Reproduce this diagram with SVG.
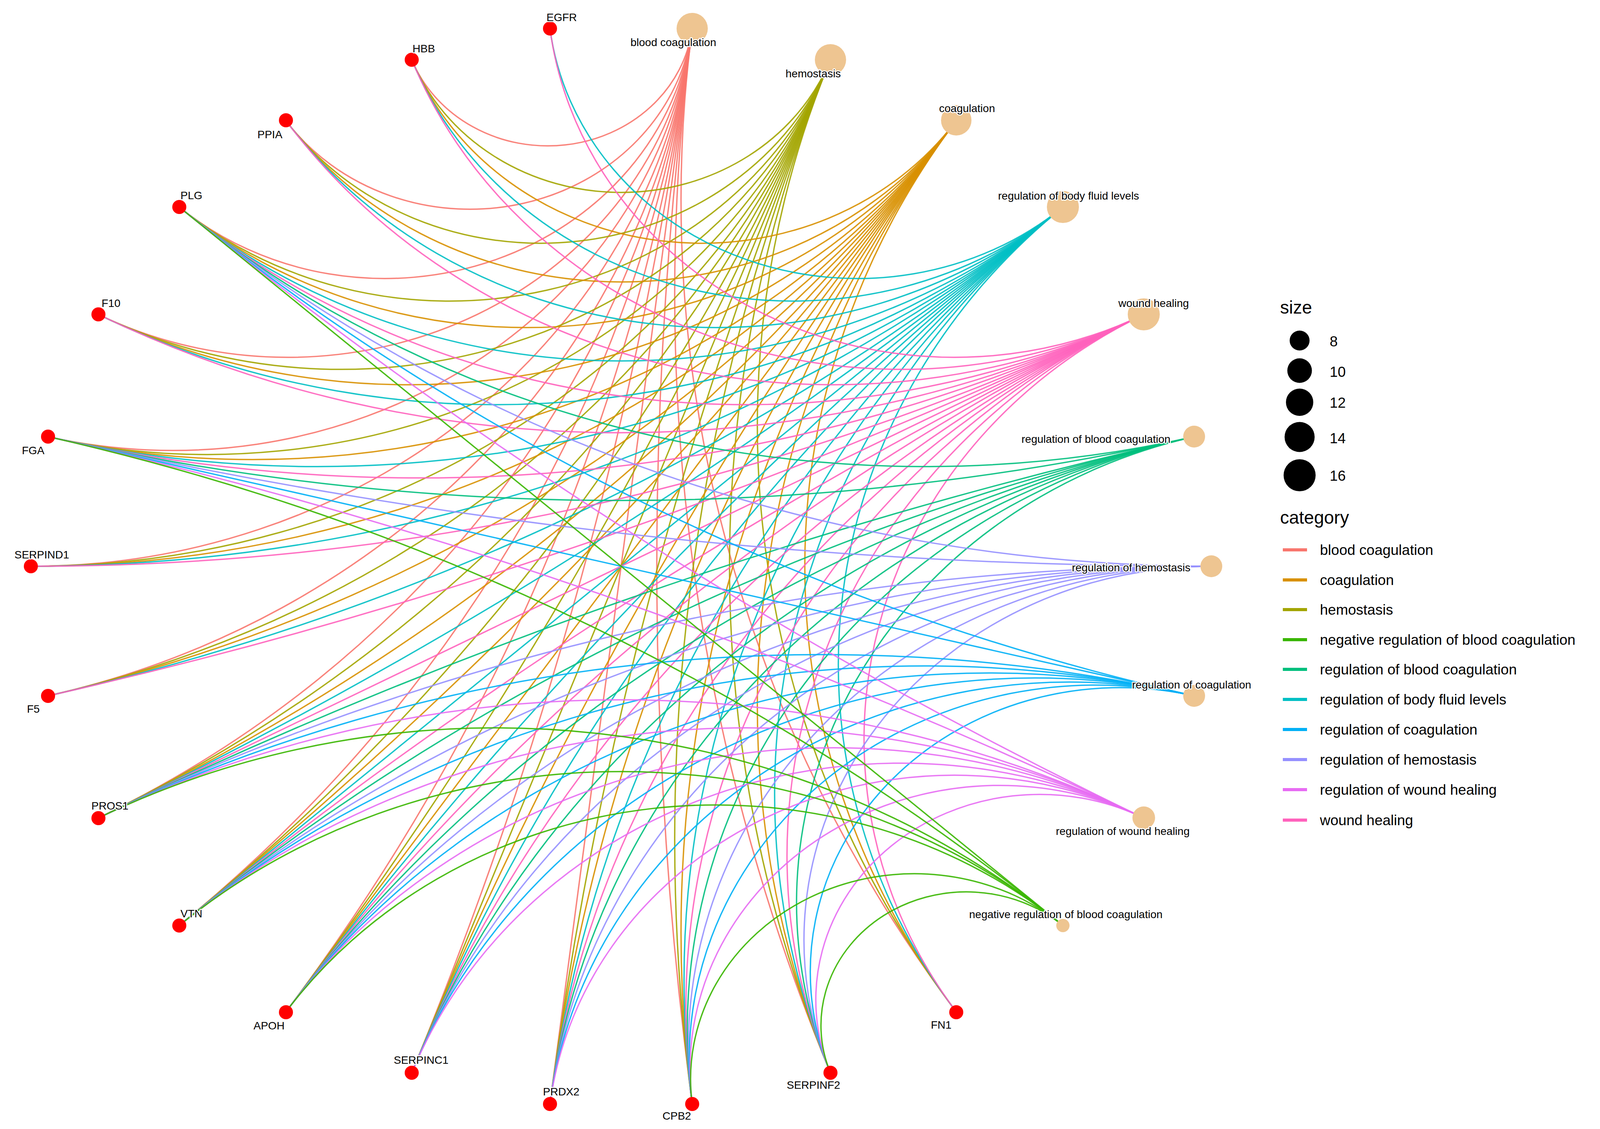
<svg xmlns="http://www.w3.org/2000/svg" width="4104" height="2891" viewBox="0 0 4104 2891">
<style>
path{fill:none;stroke-width:3.5;vector-effect:non-scaling-stroke;stroke-opacity:0.9}
.c0{stroke:#F8766D}.c1{stroke:#A3A500}.c2{stroke:#D89000}.c3{stroke:#00BFC4}.c4{stroke:#FF62BC}
.c5{stroke:#00BF7D}.c6{stroke:#9590FF}.c7{stroke:#00B0F6}.c8{stroke:#E76BF3}.c9{stroke:#39B600}
.g{fill:#FF0000}.t{fill:#EEC591}
text{font-family:"Liberation Sans",Arial,sans-serif;font-size:28px;fill:#000}
.lb{stroke:#fff;stroke-width:5;paint-order:stroke;stroke-linejoin:round}
.lg{font-size:37px}.lt{font-size:46px}
.ll{stroke-width:8;vector-effect:none;stroke-opacity:1}
</style>
<rect width="4104" height="2891" fill="#fff"/>
<g id="connectors" transform="translate(1590,1450) scale(1.511,1.387)">
<g class="c0">
<path d="M120.5,-992.7 A2643,2643 0 0 0 568.1,823"/>
<path d="M120.5,-992.7 A4057,4057 0 0 0 354.6,935"/>
<path d="M120.5,-992.7 A8243,8243 0 0 0 120.5,992.7"/>
<path d="M120.5,-992.7 L-120.5,992.7"/>
<path d="M120.5,-992.7 A8243,8243 0 0 1 -354.6,935"/>
<path d="M120.5,-992.7 A4057,4057 0 0 1 -568.1,823"/>
<path d="M120.5,-992.7 A2643,2643 0 0 1 -748.5,663.1"/>
<path d="M120.5,-992.7 A1906,1906 0 0 1 -885.5,464.7"/>
<path d="M120.5,-992.7 A1447,1447 0 0 1 -970.9,239.3"/>
<path d="M120.5,-992.7 A1128,1128 0 0 1 -1000,0"/>
<path d="M120.5,-992.7 A886.6,886.6 0 0 1 -970.9,-239.3"/>
<path d="M120.5,-992.7 A690.4,690.4 0 0 1 -885.5,-464.7"/>
<path d="M120.5,-992.7 A524.9,524.9 0 0 1 -748.5,-663.1"/>
<path d="M120.5,-992.7 A379.2,379.2 0 0 1 -568.1,-823"/>
<path d="M120.5,-992.7 A246.5,246.5 0 0 1 -354.6,-935"/>
</g>
<g class="c1">
<path d="M354.6,-935 A1906,1906 0 0 0 568.1,823"/>
<path d="M354.6,-935 A2643,2643 0 0 0 354.6,935"/>
<path d="M354.6,-935 A4057,4057 0 0 0 120.5,992.7"/>
<path d="M354.6,-935 A8243,8243 0 0 0 -120.5,992.7"/>
<path d="M354.6,-935 L-354.6,935"/>
<path d="M354.6,-935 A8243,8243 0 0 1 -568.1,823"/>
<path d="M354.6,-935 A4057,4057 0 0 1 -748.5,663.1"/>
<path d="M354.6,-935 A2643,2643 0 0 1 -885.5,464.7"/>
<path d="M354.6,-935 A1906,1906 0 0 1 -970.9,239.3"/>
<path d="M354.6,-935 A1447,1447 0 0 1 -1000,0"/>
<path d="M354.6,-935 A1128,1128 0 0 1 -970.9,-239.3"/>
<path d="M354.6,-935 A886.6,886.6 0 0 1 -885.5,-464.7"/>
<path d="M354.6,-935 A690.4,690.4 0 0 1 -748.5,-663.1"/>
<path d="M354.6,-935 A524.9,524.9 0 0 1 -568.1,-823"/>
<path d="M354.6,-935 A379.2,379.2 0 0 1 -354.6,-935"/>
</g>
<g class="c2">
<path d="M568.1,-823 A1447,1447 0 0 0 568.1,823"/>
<path d="M568.1,-823 A1906,1906 0 0 0 354.6,935"/>
<path d="M568.1,-823 A2643,2643 0 0 0 120.5,992.7"/>
<path d="M568.1,-823 A4057,4057 0 0 0 -120.5,992.7"/>
<path d="M568.1,-823 A8243,8243 0 0 0 -354.6,935"/>
<path d="M568.1,-823 L-568.1,823"/>
<path d="M568.1,-823 A8243,8243 0 0 1 -748.5,663.1"/>
<path d="M568.1,-823 A4057,4057 0 0 1 -885.5,464.7"/>
<path d="M568.1,-823 A2643,2643 0 0 1 -970.9,239.3"/>
<path d="M568.1,-823 A1906,1906 0 0 1 -1000,0"/>
<path d="M568.1,-823 A1447,1447 0 0 1 -970.9,-239.3"/>
<path d="M568.1,-823 A1128,1128 0 0 1 -885.5,-464.7"/>
<path d="M568.1,-823 A886.6,886.6 0 0 1 -748.5,-663.1"/>
<path d="M568.1,-823 A690.4,690.4 0 0 1 -568.1,-823"/>
<path d="M568.1,-823 A524.9,524.9 0 0 1 -354.6,-935"/>
</g>
<g class="c3">
<path d="M748.5,-663.1 A1128,1128 0 0 0 568.1,823"/>
<path d="M748.5,-663.1 A1447,1447 0 0 0 354.6,935"/>
<path d="M748.5,-663.1 A1906,1906 0 0 0 120.5,992.7"/>
<path d="M748.5,-663.1 A2643,2643 0 0 0 -120.5,992.7"/>
<path d="M748.5,-663.1 A4057,4057 0 0 0 -354.6,935"/>
<path d="M748.5,-663.1 A8243,8243 0 0 0 -568.1,823"/>
<path d="M748.5,-663.1 L-748.5,663.1"/>
<path d="M748.5,-663.1 A8243,8243 0 0 1 -885.5,464.7"/>
<path d="M748.5,-663.1 A4057,4057 0 0 1 -970.9,239.3"/>
<path d="M748.5,-663.1 A2643,2643 0 0 1 -1000,0"/>
<path d="M748.5,-663.1 A1906,1906 0 0 1 -970.9,-239.3"/>
<path d="M748.5,-663.1 A1447,1447 0 0 1 -885.5,-464.7"/>
<path d="M748.5,-663.1 A1128,1128 0 0 1 -748.5,-663.1"/>
<path d="M748.5,-663.1 A886.6,886.6 0 0 1 -568.1,-823"/>
<path d="M748.5,-663.1 A690.4,690.4 0 0 1 -354.6,-935"/>
<path d="M748.5,-663.1 A524.9,524.9 0 0 1 -120.5,-992.7"/>
</g>
<g class="c4">
<path d="M885.5,-464.7 A886.6,886.6 0 0 0 568.1,823"/>
<path d="M885.5,-464.7 A1128,1128 0 0 0 354.6,935"/>
<path d="M885.5,-464.7 A1447,1447 0 0 0 120.5,992.7"/>
<path d="M885.5,-464.7 A1906,1906 0 0 0 -120.5,992.7"/>
<path d="M885.5,-464.7 A2643,2643 0 0 0 -354.6,935"/>
<path d="M885.5,-464.7 A4057,4057 0 0 0 -568.1,823"/>
<path d="M885.5,-464.7 A8243,8243 0 0 0 -748.5,663.1"/>
<path d="M885.5,-464.7 L-885.5,464.7"/>
<path d="M885.5,-464.7 A8243,8243 0 0 1 -970.9,239.3"/>
<path d="M885.5,-464.7 A4057,4057 0 0 1 -1000,0"/>
<path d="M885.5,-464.7 A2643,2643 0 0 1 -970.9,-239.3"/>
<path d="M885.5,-464.7 A1906,1906 0 0 1 -885.5,-464.7"/>
<path d="M885.5,-464.7 A1447,1447 0 0 1 -748.5,-663.1"/>
<path d="M885.5,-464.7 A1128,1128 0 0 1 -568.1,-823"/>
<path d="M885.5,-464.7 A886.6,886.6 0 0 1 -354.6,-935"/>
<path d="M885.5,-464.7 A690.4,690.4 0 0 1 -120.5,-992.7"/>
</g>
<g class="c5">
<path d="M970.9,-239.3 A886.6,886.6 0 0 0 354.6,935"/>
<path d="M970.9,-239.3 A1128,1128 0 0 0 120.5,992.7"/>
<path d="M970.9,-239.3 A1447,1447 0 0 0 -120.5,992.7"/>
<path d="M970.9,-239.3 A1906,1906 0 0 0 -354.6,935"/>
<path d="M970.9,-239.3 A2643,2643 0 0 0 -568.1,823"/>
<path d="M970.9,-239.3 A4057,4057 0 0 0 -748.5,663.1"/>
<path d="M970.9,-239.3 A8243,8243 0 0 0 -885.5,464.7"/>
<path d="M970.9,-239.3 A4057,4057 0 0 1 -970.9,-239.3"/>
<path d="M970.9,-239.3 A1906,1906 0 0 1 -748.5,-663.1"/>
</g>
<g class="c6">
<path d="M1000,0 A690.4,690.4 0 0 0 354.6,935"/>
<path d="M1000,0 A886.6,886.6 0 0 0 120.5,992.7"/>
<path d="M1000,0 A1128,1128 0 0 0 -120.5,992.7"/>
<path d="M1000,0 A1447,1447 0 0 0 -354.6,935"/>
<path d="M1000,0 A1906,1906 0 0 0 -568.1,823"/>
<path d="M1000,0 A2643,2643 0 0 0 -748.5,663.1"/>
<path d="M1000,0 A4057,4057 0 0 0 -885.5,464.7"/>
<path d="M1000,0 A8243,8243 0 0 1 -970.9,-239.3"/>
<path d="M1000,0 A2643,2643 0 0 1 -748.5,-663.1"/>
</g>
<g class="c7">
<path d="M970.9,239.3 A524.9,524.9 0 0 0 354.6,935"/>
<path d="M970.9,239.3 A690.4,690.4 0 0 0 120.5,992.7"/>
<path d="M970.9,239.3 A886.6,886.6 0 0 0 -120.5,992.7"/>
<path d="M970.9,239.3 A1128,1128 0 0 0 -354.6,935"/>
<path d="M970.9,239.3 A1447,1447 0 0 0 -568.1,823"/>
<path d="M970.9,239.3 A1906,1906 0 0 0 -748.5,663.1"/>
<path d="M970.9,239.3 A2643,2643 0 0 0 -885.5,464.7"/>
<path d="M970.9,239.3 L-970.9,-239.3"/>
<path d="M970.9,239.3 A4057,4057 0 0 1 -748.5,-663.1"/>
</g>
<g class="c8">
<path d="M885.5,464.7 A379.2,379.2 0 0 0 354.6,935"/>
<path d="M885.5,464.7 A524.9,524.9 0 0 0 120.5,992.7"/>
<path d="M885.5,464.7 A690.4,690.4 0 0 0 -120.5,992.7"/>
<path d="M885.5,464.7 A886.6,886.6 0 0 0 -354.6,935"/>
<path d="M885.5,464.7 A1128,1128 0 0 0 -568.1,823"/>
<path d="M885.5,464.7 A1447,1447 0 0 0 -748.5,663.1"/>
<path d="M885.5,464.7 A1906,1906 0 0 0 -885.5,464.7"/>
<path d="M885.5,464.7 A8243,8243 0 0 0 -970.9,-239.3"/>
<path d="M885.5,464.7 A8243,8243 0 0 1 -748.5,-663.1"/>
</g>
<g class="c9">
<path d="M748.5,663.1 A246.5,246.5 0 0 0 354.6,935"/>
<path d="M748.5,663.1 A379.2,379.2 0 0 0 120.5,992.7"/>
<path d="M748.5,663.1 A886.6,886.6 0 0 0 -568.1,823"/>
<path d="M748.5,663.1 A1128,1128 0 0 0 -748.5,663.1"/>
<path d="M748.5,663.1 A1447,1447 0 0 0 -885.5,464.7"/>
<path d="M748.5,663.1 A4057,4057 0 0 0 -970.9,-239.3"/>
<path d="M748.5,663.1 L-748.5,-663.1"/>
</g>
</g>
<g id="node-blood-coagulation"><circle class="t" cx="1772" cy="73" r="40"/><text class="lb" x="1614" y="118">blood coagulation</text></g>
<g id="node-hemostasis"><circle class="t" cx="2126" cy="153" r="40"/><text class="lb" x="2011" y="198">hemostasis</text></g>
<g id="node-coagulation"><circle class="t" cx="2448" cy="308" r="39"/><text class="lb" x="2404" y="287">coagulation</text></g>
<g id="node-body-fluid"><circle class="t" cx="2721" cy="530" r="41"/><text class="lb" x="2555" y="511">regulation of body fluid levels</text></g>
<g id="node-wound-healing"><circle class="t" cx="2928" cy="805" r="41"/><text class="lb" x="2863" y="786">wound healing</text></g>
<g id="node-reg-blood-coag"><circle class="t" cx="3057" cy="1118" r="28"/><text class="lb" x="2615" y="1134">regulation of blood coagulation</text></g>
<g id="node-reg-hemostasis"><circle class="t" cx="3101" cy="1450" r="28"/><text class="lb" x="2744" y="1463">regulation of hemostasis</text></g>
<g id="node-reg-coag"><circle class="t" cx="3057" cy="1782" r="28"/><text class="lb" x="2898" y="1763">regulation of coagulation</text></g>
<g id="node-reg-wound"><circle class="t" cx="2928" cy="2094" r="29"/><text class="lb" x="2703" y="2138">regulation of wound healing</text></g>
<g id="node-neg-reg"><circle class="t" cx="2721" cy="2370" r="17"/><text class="lb" x="2481" y="2351">negative regulation of blood coagulation</text></g>
<g id="node-FN1"><circle class="g" cx="2448" cy="2592" r="18"/><text class="lb" x="2383" y="2634">FN1</text></g>
<g id="node-SERPINF2"><circle class="g" cx="2126" cy="2747" r="18"/><text class="lb" x="2014" y="2788">SERPINF2</text></g>
<g id="node-CPB2"><circle class="g" cx="1772" cy="2827" r="18"/><text class="lb" x="1696" y="2867">CPB2</text></g>
<g id="node-PRDX2"><circle class="g" cx="1408" cy="2827" r="18"/><text class="lb" x="1390" y="2805">PRDX2</text></g>
<g id="node-SERPINC1"><circle class="g" cx="1054" cy="2747" r="18"/><text class="lb" x="1008" y="2724">SERPINC1</text></g>
<g id="node-APOH"><circle class="g" cx="732" cy="2592" r="18"/><text class="lb" x="649" y="2636">APOH</text></g>
<g id="node-VTN"><circle class="g" cx="459" cy="2370" r="18"/><text class="lb" x="462" y="2349">VTN</text></g>
<g id="node-PROS1"><circle class="g" cx="252" cy="2095" r="18"/><text class="lb" x="234" y="2073">PROS1</text></g>
<g id="node-F5"><circle class="g" cx="123" cy="1782" r="18"/><text class="lb" x="69" y="1825">F5</text></g>
<g id="node-SERPIND1"><circle class="g" cx="79" cy="1450" r="18"/><text class="lb" x="37" y="1430">SERPIND1</text></g>
<g id="node-FGA"><circle class="g" cx="123" cy="1118" r="18"/><text class="lb" x="56" y="1163">FGA</text></g>
<g id="node-F10"><circle class="g" cx="252" cy="805" r="18"/><text class="lb" x="260" y="786">F10</text></g>
<g id="node-PLG"><circle class="g" cx="459" cy="530" r="18"/><text class="lb" x="462" y="510">PLG</text></g>
<g id="node-PPIA"><circle class="g" cx="732" cy="308" r="18"/><text class="lb" x="659" y="354">PPIA</text></g>
<g id="node-HBB"><circle class="g" cx="1054" cy="153" r="18"/><text class="lb" x="1056" y="134">HBB</text></g>
<g id="node-EGFR"><circle class="g" cx="1408" cy="73" r="18"/><text class="lb" x="1399" y="54">EGFR</text></g>
<g id="legend">
<text class="lt" x="3277" y="803">size</text>
<circle cx="3327" cy="872" r="25.5"/><text class="lg" x="3404" y="887">8</text>
<circle cx="3327" cy="949" r="31.5"/><text class="lg" x="3404" y="965">10</text>
<circle cx="3327" cy="1030" r="35"/><text class="lg" x="3404" y="1044">12</text>
<circle cx="3327" cy="1119" r="38.5"/><text class="lg" x="3404" y="1135">14</text>
<circle cx="3327" cy="1217" r="41"/><text class="lg" x="3404" y="1231">16</text>
<text class="lt" x="3277" y="1341">category</text>
<path class="c0 ll" d="M3284,1408H3346"/><text class="lg" x="3379" y="1421">blood coagulation</text>
<path class="c2 ll" d="M3284,1485H3346"/><text class="lg" x="3379" y="1498">coagulation</text>
<path class="c1 ll" d="M3284,1561H3346"/><text class="lg" x="3379" y="1574">hemostasis</text>
<path class="c9 ll" d="M3284,1638H3346"/><text class="lg" x="3379" y="1651">negative regulation of blood coagulation</text>
<path class="c5 ll" d="M3284,1714H3346"/><text class="lg" x="3379" y="1727">regulation of blood coagulation</text>
<path class="c3 ll" d="M3284,1791H3346"/><text class="lg" x="3379" y="1804">regulation of body fluid levels</text>
<path class="c7 ll" d="M3284,1868H3346"/><text class="lg" x="3379" y="1881">regulation of coagulation</text>
<path class="c6 ll" d="M3284,1945H3346"/><text class="lg" x="3379" y="1958">regulation of hemostasis</text>
<path class="c8 ll" d="M3284,2022H3346"/><text class="lg" x="3379" y="2035">regulation of wound healing</text>
<path class="c4 ll" d="M3284,2100H3346"/><text class="lg" x="3379" y="2113">wound healing</text>
</g>
</svg>
